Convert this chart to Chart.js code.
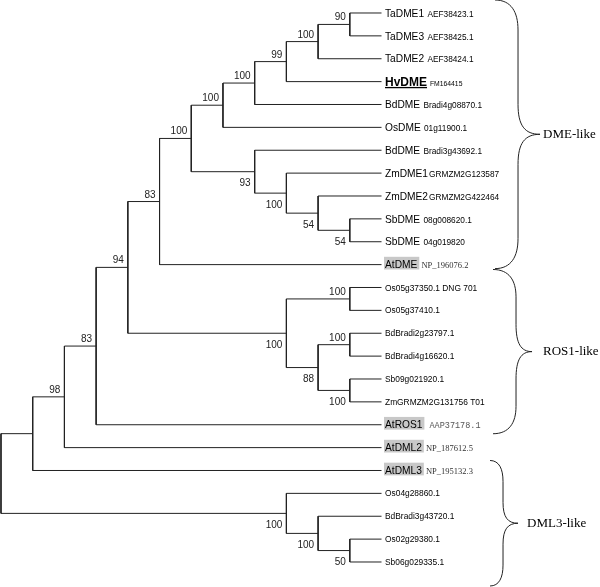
<!DOCTYPE html>
<html>
<head>
<meta charset="utf-8">
<script src="https://cdn.jsdelivr.net/npm/chart.js@4.4.0/dist/chart.umd.min.js"></script>
<style>
body { margin: 0; background: #fff; }
#wrap { width: 600px; height: 587px; }
</style>
</head>
<body>
<div id="wrap"><canvas id="tree"></canvas></div>
<script>
// tips of the tree, top to bottom
const leafNames = ["TaDME1", "TaDME3", "TaDME2", "HvDME", "BdDME", "OsDME", "BdDME", "ZmDME1", "ZmDME2", "SbDME", "SbDME", "AtDME",
	"Os05g37350.1 DNG 701", "Os05g37410.1", "BdBradi2g23797.1", "BdBradi4g16620.1", "Sb09g021920.1", "ZmGRMZM2G131756 T01",
	"AtROS1", "AtDML2", "AtDML3", "Os04g28860.1", "BdBradi3g43720.1", "Os02g29380.1", "Sb06g029335.1"];
const leafIds = [" AEF38423.1", " AEF38425.1", " AEF38424.1", " FM164415", " Bradi4g08870.1", " 01g11900.1", " Bradi3g43692.1",
	"GRMZM2G123587", "GRMZM2G422464", " 08g008620.1", " 04g019820", " NP_196076.2",
	"", "", "", "", "", "", " AAP37178.1", " NP_187612.5", " NP_195132.3", "", "", "", ""];
const focusGene = "HvDME";

// topology: [upper child, lower child, bootstrap], numbers are tip indexes
const dmeGrass = [[[[[0, 1, 90], 2, 100], 3, 99], 4, 100], 5, 100];
const dmeMaize = [6, [7, [8, [9, 10, 54], 54], 100], 93];
const dmeClade = [[dmeGrass, dmeMaize, 100], 11, 83];
const ros1Clade = [[12, 13, 100], [[14, 15, 100], [16, 17, 100], 88], 100];
const dml3Clade = [21, [22, [23, 24, 50], 100], 100];
const tree = [[[[[dmeClade, ros1Clade, 94], 18, 83], 19, 98], 20, null], dml3Clade, null];

// bracketed groups on the right
const cladeNames = ["DME-like", "ROS1-like", "DML3-like"];
const cladeFirst = [0, 12, 20];
const cladeLast = [11, 18, 24];

const SANS = '"Liberation Sans", Arial, Helvetica, sans-serif';
const SERIF = '"Liberation Serif", "Times New Roman", serif';
const MONO = '"Liberation Mono", "Courier New", monospace';

// cladogram layout: node height = steps to its furthest tip
function layout(node){
	if(typeof node === "number")
		return {h: 0, y: node};
	let a = layout(node[0]), b = layout(node[1]);
	return {h: 1 + Math.max(a.h, b.h), y: (a.y + b.y) / 2, kids: [a, b], support: node[2]};
}
const root = layout(tree);
const depth = root.h;
function place(n){
	n.x = depth - n.h;
	if(n.kids) n.kids.forEach(place);
}
place(root);

let brackets = [], supports = [];
function collect(n, pos){
	if(!n.kids) return;
	let a = n.kids[0], b = n.kids[1];
	brackets.push([{x: a.x, y: a.y}, {x: n.x, y: a.y}, {x: n.x, y: b.y}, {x: b.x, y: b.y}]);
	if(n.support != null)
		supports.push({x: n.x, y: n.y, text: String(n.support), below: pos === 1});
	collect(a, 0);
	collect(b, 1);
}
collect(root, 0);

const braceStyle = [
	{top: -13, bottom: 4, ends: 113.5, spine: 136.5, tip: 158.5, text: 161.5},
	{top: -18, bottom: 9, ends: 111.5, spine: 134.5, tip: 150.5, text: 161.5},
	{top: -10, bottom: 24, ends: 108.5, spine: 121.5, tip: 136.5, text: 145.5}
];

const treeLabels = {
	id: "treeLabels",
	afterDatasetsDraw(chart){
		const ctx = chart.ctx, xs = chart.scales.x, ys = chart.scales.y;
		ctx.save();
		// bootstrap values
		ctx.font = "10px " + SANS;
		ctx.fillStyle = "#222";
		ctx.textAlign = "right";
		ctx.textBaseline = "alphabetic";
		for(let s of supports){
			let px = xs.getPixelForValue(s.x), py = ys.getPixelForValue(s.y);
			ctx.fillText(s.text, px - 4, s.below ? py + 14.5 : py - 4);
		}
		// tip labels
		const x0 = xs.getPixelForValue(depth);
		const tx = x0 + 3.5;
		ctx.textAlign = "left";
		leafNames.forEach((name, i) => {
			let id = leafIds[i];
			let size = id ? 10.2 : 8.4;
			let font = size + "px " + SANS;
			if(name === focusGene){
				size = 12;
				font = "bold 12px " + SANS;
			}
			let base = ys.getPixelForValue(i) + size * 0.36;
			ctx.font = font;
			let w = ctx.measureText(name).width;
			if(name.startsWith("At")){
				ctx.fillStyle = "#c8c8c8";
				ctx.fillRect(tx - 1, base - 11.5, w + 3, 12.7);
			}
			ctx.fillStyle = "#000";
			ctx.fillText(name, tx, base);
			if(name === focusGene)
				ctx.fillRect(tx, base + 1, w, 1.3);
			if(id){
				let ax = tx + w + (name.startsWith("At") ? 2 : 1);
				if(id.startsWith(" NP_")){
					ctx.font = "8.5px " + SERIF;
					ctx.fillStyle = "#333";
				}else if(id.startsWith(" AAP")){
					ctx.font = "8.5px " + MONO;
					ctx.fillStyle = "#555";
				}else{
					ctx.font = (name === focusGene ? 6.8 : 8.3) + "px " + SANS;
					ctx.fillStyle = "#000";
				}
				ctx.fillText(id, ax, base);
			}
		});
		// braces
		ctx.strokeStyle = "#222";
		ctx.lineWidth = 1;
		ctx.fillStyle = "#000";
		cladeNames.forEach((label, k) => {
			let s = braceStyle[k];
			let top = ys.getPixelForValue(cladeFirst[k]) + s.top;
			let bot = ys.getPixelForValue(cladeLast[k]) + s.bottom;
			let mid = (top + bot) / 2;
			let xe = x0 + s.ends, xp = x0 + s.spine, xt = x0 + s.tip;
			let r = Math.min(30, (bot - top) / 6);
			ctx.beginPath();
			ctx.moveTo(xe, top);
			ctx.bezierCurveTo(xe + (xp - xe) * 0.7, top, xp, top + r * 0.4, xp, top + r);
			ctx.lineTo(xp, mid - r);
			ctx.bezierCurveTo(xp, mid - r * 0.3, xp + (xt - xp) * 0.3, mid, xt, mid);
			ctx.bezierCurveTo(xp + (xt - xp) * 0.3, mid, xp, mid + r * 0.3, xp, mid + r);
			ctx.lineTo(xp, bot - r);
			ctx.bezierCurveTo(xp, bot - r * 0.4, xe + (xp - xe) * 0.7, bot, xe, bot);
			ctx.stroke();
			ctx.font = "13px " + SERIF;
			ctx.textBaseline = "middle";
			ctx.fillText(label, x0 + s.text, mid);
		});
		ctx.restore();
	}
};

let graph = document.getElementById("tree").getContext("2d");
let myChart = new Chart(graph, {
	type: "scatter",
	data: {
		datasets: brackets.map(pts => ({
			data: pts,
			showLine: true,
			borderColor: "#222",
			borderWidth: 1,
			pointRadius: 0,
			tension: 0,
			fill: false
		}))
	},
	options: {
		responsive: true,
		maintainAspectRatio: false,
		animation: false,
		events: [],
		layout: {padding: 0},
		plugins: {
			legend: {display: false},
			tooltip: {enabled: false}
		},
		scales: {
			x: {type: "linear", display: false, min: -0.0315, max: 18.89},
			y: {type: "linear", display: false, reverse: true, min: -0.568, max: 25.093}
		}
	},
	plugins: [treeLabels]
});
</script>
</body>
</html>
